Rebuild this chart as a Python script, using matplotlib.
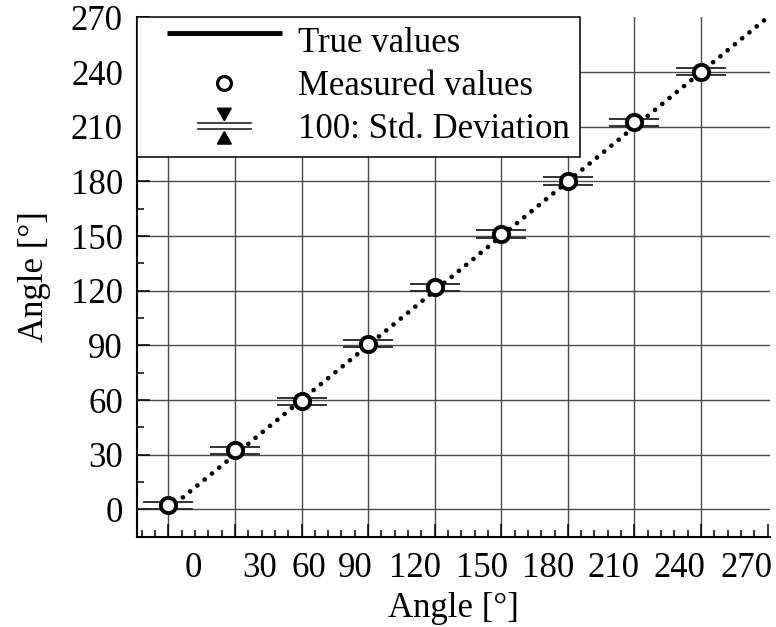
import numpy as np
import matplotlib
matplotlib.use('Agg')
import matplotlib.pyplot as plt
from matplotlib.lines import Line2D
from matplotlib.patches import Polygon
from matplotlib.legend_handler import HandlerLine2D, HandlerBase
from matplotlib.ticker import MultipleLocator, FixedLocator

# ---- data ----
true_angles = [0, 30, 60, 90, 120, 150, 180, 210, 240]
measured = [2.2, 32.4, 59.2, 90.9, 121.9, 151.2, 180.4, 212.4, 240.2]
std_x100 = [2.1, 2.0, 2.1, 2.0, 2.0, 2.2, 2.3, 2.1, 1.8]
true_line = [0, 270]
grid_values = [0, 30, 60, 90, 120, 150, 180, 210, 240]
major_ticks = [0, 30, 60, 90, 120, 150, 180, 210, 240, 270]
x_label_text = ['0', '30', '60', '90', '120', '150', '180', '210', '240', '270']
x_label_pos = [11.3, 41.3, 63.1, 84.1, 111.1, 141.2, 171.2, 200.8, 230.5, 260.6]
legend_labels = ['True values', 'Measured values', '100: Std. Deviation']

plt.rcParams['font.family'] = ['Liberation Serif', 'DejaVu Serif']
plt.rcParams['font.size'] = 25

fig = plt.figure(figsize=(7.76, 6.27), dpi=100)
ax = fig.add_axes([0.1762, 0.1435, 0.8161, 0.8298])
ax.set_xlim(-14.24, 271.1)
ax.set_ylim(-15.2, 270.4)

for side in ['top', 'right']:
    ax.spines[side].set_visible(False)
for side in ['left', 'bottom']:
    ax.spines[side].set_linewidth(1.5)

ax.xaxis.set_major_locator(FixedLocator(major_ticks))
ax.xaxis.set_minor_locator(MultipleLocator(6))
ax.yaxis.set_major_locator(FixedLocator(major_ticks))
ax.yaxis.set_minor_locator(MultipleLocator(15))
ax.tick_params(axis='both', which='both', direction='in', width=1.1, color='black')
ax.tick_params(axis='both', which='major', length=9.4)
ax.tick_params(axis='both', which='minor', length=5)
ax.tick_params(axis='x', labelbottom=False)
ax.tick_params(axis='y', pad=9.9)

# grid
for v in grid_values:
    ax.axvline(v, color='#4a4a4a', lw=1.0, zorder=1)
    ax.axhline(v, color='#4a4a4a', lw=1.0, zorder=1)

# secondary x labels
sec = ax.secondary_xaxis('bottom')
sec.set_xticks(x_label_pos, labels=x_label_text)
sec.tick_params(length=0, pad=11)
sec.spines['bottom'].set_visible(False)
sec.set_xlabel('Angle [°]', labelpad=4.5)
ax.set_ylabel('Angle [°]', labelpad=14)

# true values (dotted)
ax.plot(true_line, true_line, color='black', lw=3.4, linestyle=(0, (0.01, 1.98)),
        dash_capstyle='round', zorder=3)
# std deviation bars (x100)
ax.errorbar(true_angles, measured, yerr=std_x100, fmt='none', ecolor='#222222',
            elinewidth=1.2, capsize=18, capthick=1.3, zorder=2)
# measured values
ax.plot(true_angles, measured, 'o', ms=11, mfc='white', mec='black', mew=2.8, zorder=5)

# ---- legend ----
class StdHandle:
    pass


class HandlerStd(HandlerBase):
    def create_artists(self, legend, orig_handle, xdescent, ydescent, width, height,
                       fontsize, trans):
        cx = -xdescent + width / 2
        cy = -ydescent + height / 2
        hw = 19.0
        gap = 2.4
        arts = []
        for dy in (-gap, gap):
            arts.append(Line2D([cx - hw, cx + hw], [cy + dy, cy + dy], color='#222222',
                               lw=1.2, transform=trans))
        tw = 5.0
        th = 9.0
        top = Polygon([[cx - tw, cy + gap + 1.5 + th], [cx + tw, cy + gap + 1.5 + th],
                       [cx, cy + gap + 1.5]], closed=True, facecolor='black',
                      edgecolor='black', transform=trans)
        bot = Polygon([[cx - tw, cy - gap - 1.5 - th], [cx + tw, cy - gap - 1.5 - th],
                       [cx, cy - gap - 1.5]], closed=True, facecolor='black',
                      edgecolor='black', transform=trans)
        arts += [top, bot]
        return arts


class HandlerRaisedLine(HandlerBase):
    def create_artists(self, legend, orig_handle, xdescent, ydescent, width, height,
                       fontsize, trans):
        y = -ydescent + height / 2 + 5.0
        ln = Line2D([-xdescent, -xdescent + width], [y, y], color='black',
                    lw=3.5, solid_capstyle='butt', transform=trans)
        return [ln]


h_true = Line2D([], [], color='black', lw=3.5)
h_meas = Line2D([], [], ls='none', marker='o', ms=10, mfc='white', mec='black', mew=2.3)
h_std = StdHandle()

leg = ax.legend([h_true, h_meas, h_std], legend_labels,
                handler_map={h_true: HandlerRaisedLine(xpad=0.565),
                             h_meas: HandlerLine2D(xpad=0.565, numpoints=1),
                             StdHandle: HandlerStd(xpad=0.565)},
                loc='upper left', bbox_to_anchor=(0, 1), bbox_transform=ax.transAxes,
                borderaxespad=0, borderpad=0.3, handlelength=3.88, handletextpad=0.47,
                labelspacing=0.29, frameon=True, fancybox=False, framealpha=1,
                edgecolor='black')
leg.get_frame().set_linewidth(1.1)
leg.set_zorder(10)

fig.savefig('out.png', dpi=100)
